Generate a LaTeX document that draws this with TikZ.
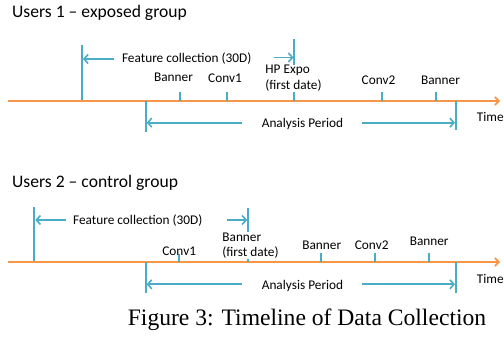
\documentclass[tikz,border=0pt]{standalone}
\usepackage{fontspec}
\setmainfont{Carlito}
\newfontfamily\capfont{Liberation Serif}
\usetikzlibrary{arrows.meta}
\definecolor{tlblue}{RGB}{75,172,198}
\definecolor{tlorange}{RGB}{247,150,70}
\begin{document}
\begin{tikzpicture}[x=1pt,y=-1pt,
  timeline/.style={draw=tlorange,line width=2.4pt,-{Straight Barb[length=4pt,width=8pt,line width=1.6pt]}},
  tick/.style={draw=tlblue,line width=1.8pt},
  span/.style={draw=tlblue,line width=1.8pt,-{Straight Barb[length=4pt,width=9pt,line width=1.6pt]}},
  lbl/.style={font=\fontsize{13.3}{15.3}\selectfont,inner sep=0.5pt,text=black},
  title/.style={font=\fontsize{17.6}{21}\selectfont,inner sep=0pt,anchor=west},
  cover/.style={lbl,fill=white,align=left,anchor=west}]
\useasboundingbox (0,0) rectangle (504,337);

% ---------- group 1 ----------
\node[title] (t1) at (12,13) {Users 1 -- exposed group};
\coordinate (l1s) at (8,101);
\coordinate (l1e) at (500,101);
\draw[timeline] (l1s) -- (l1e);
% feature collection
\coordinate (f1a) at (82,45);   \coordinate (f1b) at (82,100);
\coordinate (f1c) at (294.3,39); \coordinate (f1d) at (294.3,101);
\draw[tick] (f1a) -- (f1b);
\draw[tick] (f1c) -- (f1d);
\node[lbl] (fc1) at (186.7,59) {Feature collection (30D)};
\coordinate (fa1) at (83,59); \coordinate (fb1) at (293.5,57.5);
\draw[span] (fc1.west) ++(-7,0) coordinate (fs1) -- (fa1);
\draw[span] (273.5,57.5) coordinate (fr1) -- (fb1);
\node[cover] (hp) at (264.7,78.3) {HP Expo\\(first date)};
% events
\foreach \x/\n in {180/a,226.7/b,382/c,436/d}{
  \coordinate (e1\n t) at (\x,92); \coordinate (e1\n b) at (\x,101);
  \draw[tick] (e1\n t) -- (e1\n b);}
\node[lbl] (b11) at (173.5,77.7) {Banner};
\node[lbl] (c11) at (225,78) {Conv1};
\node[lbl] (c12) at (378.5,80) {Conv2};
\node[lbl] (b12) at (440.5,80) {Banner};
% analysis period
\coordinate (a1a) at (145.7,101); \coordinate (a1b) at (145.7,131.7);
\coordinate (a1c) at (456,101);   \coordinate (a1d) at (456,130);
\draw[tick] (a1a) -- (a1b);
\draw[tick] (a1c) -- (a1d);
\node[lbl] (ap1) at (302.5,124) {Analysis Period};
\coordinate (ap1l) at (242,122.7); \coordinate (ap1r) at (362,122.7);
\draw[span] (ap1l) -- (146.7,122.7) coordinate (ap1lt);
\draw[span] (ap1r) -- (455,122.7) coordinate (ap1rt);
\node[lbl,anchor=west] (time1) at (476.2,117) {Time};

% ---------- group 2 ----------
\node[title] (t2) at (12,183) {Users 2 -- control group};
\coordinate (l2s) at (8,262);
\coordinate (l2e) at (500,262);
\draw[timeline] (l2s) -- (l2e);
\coordinate (f2a) at (34.3,206.7); \coordinate (f2b) at (34.3,261);
\coordinate (f2c) at (248,208);    \coordinate (f2d) at (248,262);
\draw[tick] (f2a) -- (f2b);
\draw[tick] (f2c) -- (f2d);
\node[lbl] (fc2) at (137.8,220.7) {Feature collection (30D)};
\draw[span] (65.7,220) coordinate (fs2) -- (35.3,220) coordinate (fa2);
\draw[span] (227,220) coordinate (fr2) -- (247.2,220) coordinate (fb2);
\node[cover] (bf) at (221.7,245.8) {Banner\\(first date)};
\foreach \x/\y/\n in {179.3/254/a,321/252.7/b,375.3/252.7/c,429.3/252.7/d}{
  \coordinate (e2\n t) at (\x,\y); \coordinate (e2\n b) at (\x,262);
  \draw[tick] (e2\n t) -- (e2\n b);}
\node[lbl] (c21) at (179.2,251) {Conv1};
\node[lbl] (b21) at (321.8,245) {Banner};
\node[lbl] (c22) at (371.7,245) {Conv2};
\node[lbl] (b22) at (429.2,241) {Banner};
\coordinate (a2a) at (145.7,262); \coordinate (a2b) at (145.7,293.3);
\coordinate (a2c) at (456,262);   \coordinate (a2d) at (456,292.7);
\draw[tick] (a2a) -- (a2b);
\draw[tick] (a2c) -- (a2d);
\node[lbl] (ap2) at (302.5,285.7) {Analysis Period};
\draw[span] (242,284.3) coordinate (ap2l) -- (146.7,284.3) coordinate (ap2lt);
\draw[span] (362,284.3) coordinate (ap2r) -- (455,284.3) coordinate (ap2rt);
\node[lbl,anchor=west] (time2) at (476.2,279) {Time};

% ---------- caption ----------
\node[font=\capfont\fontsize{23.6}{26}\selectfont,inner sep=0pt] (cap) at (307,320) {Figure 3: Timeline of Data Collection};
\end{tikzpicture}
\end{document}
